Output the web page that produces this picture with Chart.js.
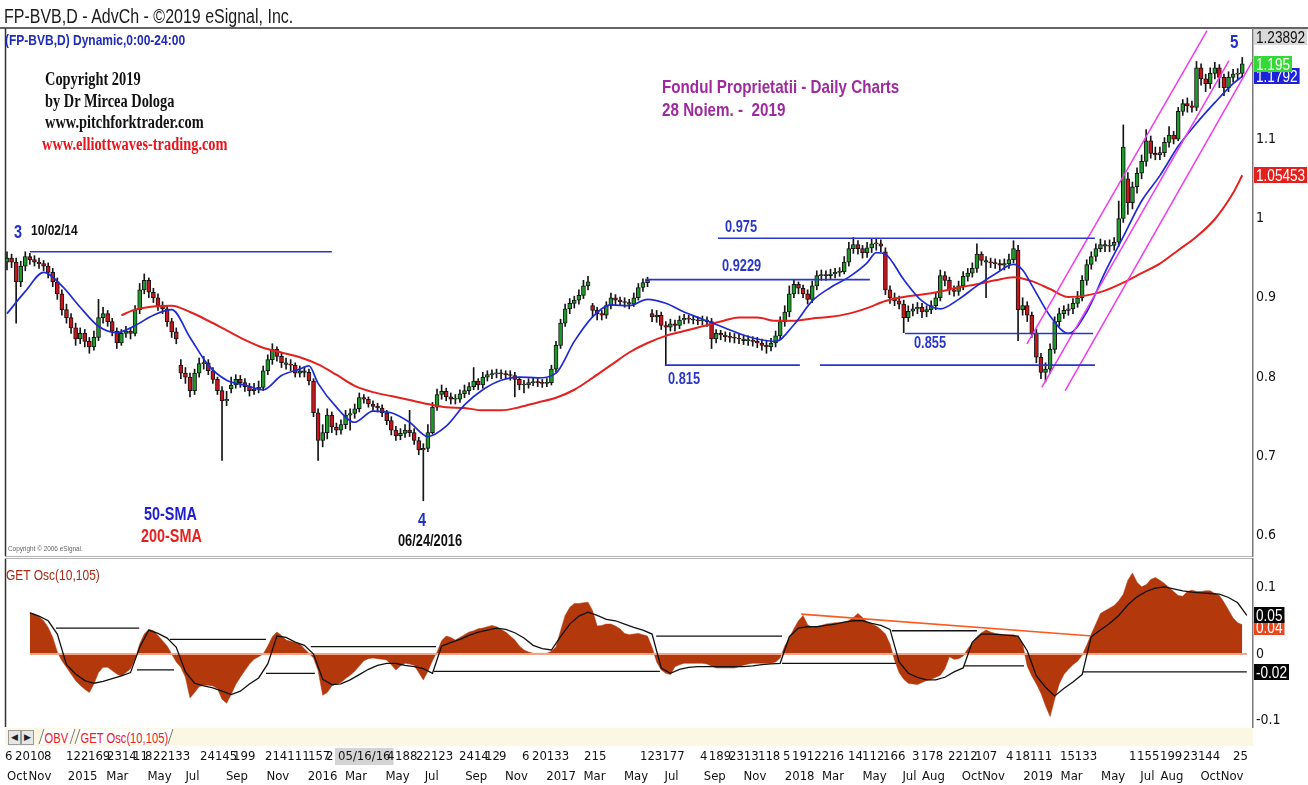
<!DOCTYPE html>
<html>
<head>
<meta charset="utf-8">
<title>FP-BVB Daily - Fondul Proprietatii</title>
<script src="https://cdn.jsdelivr.net/npm/chart.js@4.4.1/dist/chart.umd.min.js"></script>
<style>
  html, body { margin: 0; padding: 0; background: #fff; }
  #wrap { position: relative; width: 1308px; height: 785px; overflow: hidden; }
  #mainCanvas { position: absolute; left: 0; top: 0; }
  #oscCanvas { position: absolute; left: 0; top: 557px; }
  .note { position: absolute; white-space: pre; transform: scaleX(0.8); transform-origin: 0 0; z-index: 5; }
  #tabs { position: absolute; left: 5px; top: 728px; width: 1248px; height: 18px; background: #fbf7e3; z-index: 4; }
  .arr { position: absolute; top: 2px; width: 11px; height: 13px; background: #e6e6e6; border: 1px solid #9a9a9a;
         font: 9px "Liberation Sans", sans-serif; line-height: 13px; text-align: center; color: #222; }
  .tab { position: absolute; top: 1px; height: 15px; border-left: 1px solid #777; border-right: 1px solid #777;
         transform: skewX(-18deg); background: #fff; }
  .tab span { display: inline-block; transform: skewX(18deg) scaleX(0.8); transform-origin: 0 50%;
              font: 14px "Liberation Sans", sans-serif; line-height: 15px; color: #e8202a; padding-left: 4px; white-space: nowrap; }
</style>
</head>
<body>
<div id="wrap">
  <canvas id="mainCanvas" width="1308" height="558"></canvas>
  <canvas id="oscCanvas" width="1308" height="228"></canvas>
  <div id="tabs">
    <div class="arr" style="left:3px">&#9664;</div>
    <div class="arr" style="left:16px">&#9654;</div>
    <div class="tab" style="left:36px;width:30px"><span>OBV</span></div>
    <div class="tab" style="left:72px;width:92px"><span>GET Osc(10,105)</span></div>
  </div>
</div>
<script>
// Weekly candles, week 0 = 1 Oct 2014
const opens = [
  0.945,0.950,0.945,0.920,0.940,0.952,0.948,0.945,0.943,0.940,
  0.932,0.920,0.905,0.885,0.875,0.862,0.848,0.855,0.845,0.838,
  0.850,0.875,0.880,0.870,0.858,0.843,0.855,0.858,0.855,0.885,
  0.910,0.922,0.907,0.900,0.890,0.886,0.870,0.857,0.815,0.805,
  0.800,0.783,0.805,0.817,0.818,0.808,0.797,0.783,0.770,0.785,
  0.790,0.797,0.793,0.788,0.783,0.785,0.787,0.808,0.822,0.835,
  0.826,0.818,0.816,0.815,0.805,0.808,0.806,0.795,0.755,0.720,
  0.730,0.752,0.737,0.733,0.740,0.752,0.754,0.760,0.774,0.772,
  0.766,0.763,0.761,0.755,0.745,0.733,0.726,0.729,0.733,0.730,
  0.720,0.708,0.710,0.730,0.762,0.778,0.782,0.775,0.772,0.772,
  0.779,0.783,0.788,0.795,0.790,0.800,0.803,0.804,0.805,0.804,
  0.803,0.802,0.797,0.790,0.790,0.793,0.794,0.793,0.792,0.793,
  0.810,0.840,0.868,0.886,0.893,0.897,0.903,0.915,0.890,0.884,
  0.880,0.878,0.890,0.900,0.897,0.895,0.894,0.892,0.900,0.913,
  0.919,0.880,0.876,0.878,0.865,0.863,0.867,0.865,0.872,0.874,
  0.873,0.872,0.871,0.872,0.870,0.848,0.855,0.853,0.851,0.850,
  0.849,0.848,0.846,0.846,0.845,0.843,0.840,0.838,0.843,0.852,
  0.870,0.882,0.905,0.917,0.912,0.905,0.898,0.915,0.928,0.929,
  0.928,0.930,0.932,0.933,0.945,0.962,0.967,0.962,0.957,0.963,
  0.968,0.968,0.958,0.910,0.900,0.896,0.892,0.875,0.883,0.886,
  0.888,0.882,0.885,0.890,0.900,0.928,0.922,0.910,0.908,0.915,
  0.927,0.931,0.937,0.955,0.947,0.945,0.944,0.943,0.941,0.943,
  0.948,0.960,0.885,0.890,0.878,0.855,0.825,0.806,0.810,0.835,
  0.870,0.880,0.884,0.886,0.893,0.900,0.922,0.942,0.952,0.962,
  0.967,0.965,0.966,0.970,1.000,1.050,1.020,1.040,1.057,1.072,
  1.098,1.082,1.080,1.083,1.096,1.105,1.100,1.135,1.145,1.142,
  1.140,1.190,1.176,1.170,1.183,1.190,1.178,1.165,1.178,1.182,
  1.183
];
const highs = [
  0.958,0.955,0.950,0.946,0.958,0.956,0.953,0.950,0.947,0.944,
  0.937,0.925,0.910,0.892,0.880,0.868,0.862,0.860,0.850,0.858,
  0.898,0.888,0.884,0.874,0.862,0.860,0.864,0.862,0.890,0.918,
  0.930,0.925,0.912,0.905,0.895,0.890,0.874,0.862,0.822,0.812,
  0.805,0.810,0.824,0.826,0.822,0.812,0.800,0.788,0.782,0.800,
  0.803,0.802,0.798,0.792,0.792,0.795,0.814,0.828,0.842,0.838,
  0.830,0.824,0.822,0.818,0.814,0.813,0.810,0.798,0.760,0.740,
  0.760,0.756,0.742,0.746,0.758,0.760,0.766,0.780,0.778,0.775,
  0.770,0.767,0.765,0.758,0.750,0.738,0.735,0.740,0.758,0.735,
  0.724,0.716,0.740,0.768,0.785,0.790,0.786,0.780,0.778,0.784,
  0.790,0.793,0.812,0.798,0.806,0.808,0.809,0.810,0.809,0.808,
  0.808,0.806,0.800,0.796,0.798,0.799,0.798,0.797,0.798,0.815,
  0.845,0.873,0.892,0.899,0.902,0.910,0.922,0.927,0.893,0.888,
  0.884,0.895,0.906,0.904,0.901,0.900,0.898,0.906,0.918,0.924,
  0.926,0.885,0.884,0.882,0.870,0.873,0.872,0.877,0.879,0.878,
  0.877,0.876,0.877,0.876,0.874,0.860,0.859,0.857,0.856,0.855,
  0.854,0.853,0.852,0.851,0.850,0.848,0.846,0.849,0.858,0.876,
  0.890,0.915,0.922,0.920,0.916,0.910,0.921,0.934,0.935,0.934,
  0.936,0.937,0.938,0.952,0.970,0.976,0.972,0.966,0.970,0.974,
  0.975,0.973,0.963,0.915,0.906,0.902,0.897,0.890,0.892,0.894,
  0.893,0.890,0.896,0.906,0.935,0.933,0.926,0.915,0.921,0.933,
  0.937,0.944,0.968,0.958,0.952,0.950,0.949,0.948,0.949,0.955,
  0.972,0.966,0.900,0.895,0.882,0.860,0.830,0.818,0.842,0.876,
  0.887,0.890,0.892,0.899,0.908,0.928,0.948,0.958,0.968,0.974,
  0.972,0.973,0.976,1.022,1.118,1.058,1.046,1.064,1.080,1.112,
  1.104,1.090,1.090,1.102,1.116,1.110,1.140,1.150,1.152,1.148,
  1.198,1.195,1.182,1.190,1.197,1.194,1.182,1.185,1.188,1.189,
  1.203
];
const lows = [
  0.935,0.938,0.868,0.914,0.934,0.942,0.940,0.937,0.934,0.925,
  0.914,0.898,0.878,0.868,0.855,0.840,0.842,0.838,0.830,0.834,
  0.846,0.868,0.864,0.852,0.836,0.840,0.850,0.848,0.852,0.880,
  0.905,0.900,0.894,0.884,0.880,0.864,0.850,0.842,0.798,0.792,
  0.775,0.778,0.800,0.810,0.803,0.792,0.778,0.695,0.764,0.780,
  0.786,0.787,0.782,0.776,0.778,0.780,0.783,0.803,0.816,0.820,
  0.812,0.810,0.808,0.800,0.800,0.800,0.790,0.750,0.695,0.712,
  0.722,0.730,0.727,0.728,0.735,0.733,0.748,0.756,0.767,0.762,
  0.758,0.756,0.750,0.740,0.727,0.720,0.721,0.724,0.725,0.715,
  0.702,0.644,0.706,0.728,0.758,0.772,0.770,0.766,0.766,0.768,
  0.774,0.778,0.784,0.784,0.786,0.795,0.798,0.799,0.798,0.798,
  0.796,0.775,0.784,0.780,0.786,0.789,0.788,0.787,0.788,0.790,
  0.806,0.836,0.864,0.880,0.887,0.892,0.899,0.910,0.876,0.872,
  0.872,0.874,0.886,0.891,0.890,0.888,0.886,0.889,0.897,0.908,
  0.914,0.870,0.869,0.860,0.815,0.858,0.858,0.861,0.867,0.868,
  0.867,0.866,0.866,0.864,0.836,0.843,0.847,0.845,0.844,0.843,
  0.842,0.841,0.840,0.839,0.837,0.834,0.830,0.833,0.838,0.848,
  0.864,0.876,0.900,0.905,0.900,0.892,0.894,0.910,0.922,0.922,
  0.923,0.925,0.927,0.930,0.940,0.956,0.955,0.950,0.951,0.957,
  0.960,0.958,0.904,0.893,0.890,0.886,0.856,0.870,0.877,0.880,
  0.875,0.876,0.880,0.885,0.896,0.915,0.904,0.902,0.903,0.910,
  0.921,0.926,0.932,0.941,0.900,0.938,0.937,0.935,0.935,0.937,
  0.944,0.846,0.878,0.870,0.850,0.818,0.798,0.794,0.805,0.830,
  0.864,0.874,0.878,0.880,0.888,0.896,0.916,0.936,0.946,0.958,
  0.958,0.958,0.960,0.965,0.995,1.005,1.012,1.032,1.050,1.066,
  1.076,1.074,1.074,1.078,1.090,1.094,1.098,1.130,1.134,1.134,
  1.136,1.168,1.160,1.164,1.176,1.165,1.155,1.160,1.172,1.175,
  1.178
];
const closes = [
  0.950,0.945,0.920,0.940,0.952,0.948,0.945,0.943,0.940,0.932,
  0.920,0.905,0.885,0.875,0.862,0.848,0.855,0.845,0.838,0.850,
  0.875,0.880,0.870,0.858,0.843,0.855,0.858,0.855,0.885,0.910,
  0.922,0.907,0.900,0.890,0.886,0.870,0.857,0.848,0.805,0.800,
  0.783,0.805,0.817,0.818,0.808,0.797,0.783,0.770,0.772,0.790,
  0.797,0.793,0.788,0.783,0.785,0.787,0.808,0.822,0.835,0.826,
  0.818,0.816,0.815,0.805,0.808,0.806,0.795,0.755,0.720,0.730,
  0.752,0.737,0.733,0.740,0.752,0.754,0.760,0.774,0.772,0.766,
  0.763,0.761,0.755,0.745,0.733,0.726,0.729,0.733,0.730,0.720,
  0.708,0.710,0.730,0.762,0.778,0.782,0.775,0.772,0.772,0.779,
  0.783,0.788,0.795,0.790,0.800,0.803,0.804,0.805,0.804,0.803,
  0.802,0.797,0.790,0.790,0.793,0.794,0.793,0.792,0.793,0.810,
  0.840,0.868,0.886,0.893,0.897,0.903,0.915,0.920,0.884,0.880,
  0.878,0.890,0.900,0.897,0.895,0.894,0.892,0.900,0.913,0.919,
  0.922,0.876,0.878,0.865,0.863,0.867,0.865,0.872,0.874,0.873,
  0.872,0.871,0.872,0.870,0.848,0.855,0.853,0.851,0.850,0.849,
  0.848,0.846,0.846,0.845,0.843,0.840,0.838,0.843,0.852,0.870,
  0.882,0.905,0.917,0.912,0.905,0.898,0.915,0.928,0.929,0.928,
  0.930,0.932,0.933,0.945,0.962,0.967,0.962,0.957,0.963,0.968,
  0.968,0.965,0.910,0.900,0.896,0.892,0.875,0.883,0.886,0.888,
  0.882,0.885,0.890,0.900,0.928,0.922,0.910,0.908,0.915,0.927,
  0.931,0.937,0.955,0.947,0.945,0.944,0.943,0.941,0.943,0.948,
  0.962,0.885,0.890,0.878,0.855,0.825,0.806,0.810,0.835,0.870,
  0.880,0.884,0.886,0.893,0.900,0.922,0.942,0.952,0.962,0.967,
  0.965,0.966,0.970,1.000,1.090,1.020,1.040,1.057,1.072,1.098,
  1.082,1.080,1.083,1.096,1.105,1.100,1.135,1.145,1.142,1.140,
  1.190,1.176,1.170,1.183,1.190,1.178,1.165,1.178,1.182,1.183,
  1.195
];

// moving averages as drawn (week, value)
const sma50Weeks = [0,4,8,12,16,20,24,28,32,36,40,44,48,52,56,60,64,66,68,72,76,80,84,88,92,96,100,104,108,112,
  116,120,124,128,132,136,140,144,148,152,156,160,164,168,172,176,180,184,188,190,192,196,200,204,208,212,216,220,222,224,
  228,232,236,240,244,248,252,256,260,264,268,270];
const sma50 = [0.880,0.908,0.932,0.915,0.888,0.864,0.856,0.865,0.878,0.885,0.850,0.815,0.796,0.790,0.784,0.802,0.810,0.814,0.792,0.762,
  0.743,0.757,0.755,0.743,0.725,0.738,0.765,0.784,0.796,0.800,0.799,0.805,0.845,0.876,0.891,0.890,0.898,0.893,0.882,0.873,
  0.864,0.855,0.848,0.845,0.866,0.896,0.913,0.926,0.944,0.957,0.955,0.923,0.896,0.886,0.898,0.915,0.930,0.942,0.935,0.916,
  0.877,0.855,0.882,0.932,0.977,1.022,1.054,1.091,1.120,1.146,1.170,1.1792];
const sma200Weeks = [25,28,32,36,40,44,48,52,56,60,64,68,72,76,80,84,88,92,96,100,104,108,112,116,120,124,128,132,136,140,
  144,148,152,156,160,164,168,172,176,180,184,188,192,196,200,204,208,212,216,220,224,228,232,236,240,244,248,252,256,260,
  264,268,270];
const sma200 = [0.878,0.885,0.889,0.890,0.882,0.871,0.859,0.847,0.837,0.831,0.825,0.816,0.803,0.789,0.781,0.776,0.771,0.766,0.762,0.761,
  0.758,0.758,0.762,0.768,0.774,0.784,0.799,0.815,0.831,0.843,0.852,0.858,0.864,0.870,0.875,0.875,0.871,0.871,0.874,0.876,
  0.880,0.887,0.896,0.901,0.904,0.908,0.913,0.917,0.922,0.926,0.921,0.911,0.901,0.903,0.909,0.919,0.931,0.943,0.960,0.977,
  0.999,1.032,1.05453];

// drawn studies: horizontal levels [fromWeek, toWeek, price], pitchfork [w1, p1, w2, p2]
const levelLines = [[5.0, 71.0, 0.958], [155.4, 237.8, 0.975], [139.5, 188.6, 0.9229],
  [143.8, 173.3, 0.815], [177.7, 237.8, 0.815], [196.3, 237.4, 0.855]];
const pitchfork = [[222.95, 0.842, 262.3, 1.237], [226.2, 0.787, 267.1, 1.199], [231.3, 0.783, 272.1, 1.197]];

// GET oscillator, one value per week (none before week 5)
const osc = [
  null,null,null,null,null,0.062,0.060,0.056,0.050,0.040,
  0.025,0.003,-0.010,-0.020,-0.030,-0.040,-0.047,-0.053,-0.058,-0.045,
  -0.028,-0.020,-0.020,-0.025,-0.030,-0.033,-0.028,-0.022,-0.008,0.015,
  0.030,0.037,0.035,0.028,0.020,0.012,0.000,-0.012,-0.020,-0.035,
  -0.066,-0.058,-0.049,-0.047,-0.047,-0.048,-0.052,-0.068,-0.074,-0.061,
  -0.046,-0.035,-0.025,-0.015,-0.008,-0.004,0.000,0.012,0.026,0.033,
  0.028,0.021,0.019,0.017,0.015,0.008,0.001,-0.006,-0.025,-0.062,
  -0.058,-0.048,-0.045,-0.043,-0.037,-0.032,-0.026,-0.018,-0.010,-0.007,
  -0.006,-0.007,-0.008,-0.009,-0.016,-0.024,-0.018,-0.014,-0.015,-0.017,
  -0.028,-0.039,-0.026,-0.010,0.003,0.020,0.027,0.025,0.021,0.025,
  0.029,0.033,0.035,0.038,0.039,0.041,0.043,0.041,0.037,0.033,
  0.027,0.021,0.012,0.006,0.003,0.001,0.001,0.001,0.001,0.004,
  0.011,0.035,0.058,0.070,0.076,0.076,0.077,0.078,0.065,0.042,
  0.043,0.045,0.045,0.042,0.038,0.031,0.029,0.030,0.031,0.029,
  0.027,0.010,-0.012,-0.024,-0.029,-0.031,-0.019,-0.016,-0.014,-0.014,
  -0.014,-0.014,-0.014,-0.015,-0.018,-0.021,-0.021,-0.021,-0.021,-0.021,
  -0.019,-0.017,-0.015,-0.014,-0.014,-0.014,-0.014,-0.014,-0.012,-0.006,
  0.012,0.024,0.038,0.050,0.058,0.044,0.040,0.041,0.043,0.045,
  0.046,0.047,0.047,0.048,0.050,0.055,0.061,0.055,0.048,0.045,
  0.042,0.037,0.030,0.015,-0.009,-0.028,-0.038,-0.044,-0.045,-0.046,
  -0.043,-0.040,-0.038,-0.035,-0.032,-0.022,-0.004,-0.008,-0.007,-0.003,
  0.008,0.017,0.026,0.032,0.036,0.033,0.031,0.030,0.029,0.029,
  0.029,0.026,0.015,-0.018,-0.033,-0.045,-0.059,-0.078,-0.094,-0.068,
  -0.045,-0.031,-0.023,-0.016,-0.011,-0.002,0.013,0.030,0.045,0.061,
  0.065,0.069,0.073,0.080,0.090,0.111,0.122,0.108,0.101,0.104,
  0.112,0.115,0.111,0.106,0.100,0.094,0.088,0.087,0.094,0.096,
  0.094,0.094,0.095,0.095,0.091,0.088,0.078,0.066,0.054,0.047,
  0.044
];
// signal line, every second week starting at week 5
const signalFirstWeek = 5;
const signal = [
  0.062,0.057,0.050,0.030,-0.016,-0.030,-0.040,-0.044,-0.041,-0.037,
  -0.033,-0.028,0.010,0.036,0.031,0.024,0.010,-0.027,-0.044,-0.048,
  -0.051,-0.056,-0.061,-0.056,-0.045,-0.036,-0.015,0.027,0.025,0.018,
  0.013,0.000,-0.038,-0.046,-0.045,-0.039,-0.031,-0.023,-0.017,-0.014,
  -0.014,-0.017,-0.019,-0.022,-0.029,0.012,0.017,0.022,0.028,0.033,
  0.036,0.039,0.037,0.032,0.024,0.013,0.008,0.006,0.026,0.045,
  0.057,0.063,0.058,0.052,0.050,0.045,0.040,0.036,0.030,-0.021,
  -0.029,-0.023,-0.020,-0.019,-0.019,-0.019,-0.019,-0.019,-0.019,-0.018,
  -0.016,-0.015,-0.014,0.026,0.039,0.041,0.041,0.043,0.045,0.048,
  0.050,0.050,0.046,0.043,0.037,-0.012,-0.029,-0.035,-0.039,-0.039,
  -0.035,-0.027,-0.021,0.018,0.030,0.030,0.029,0.028,0.027,0.005,
  -0.033,-0.050,-0.063,-0.052,-0.042,-0.031,0.026,0.036,0.046,0.058,
  0.074,0.086,0.094,0.099,0.101,0.098,0.095,0.093,0.092,0.091,
  0.090,0.085,0.077,0.058
];
// flat breakout bands [fromWeek, toWeek, level]
const upperBands = [[10.7, 28.9, 0.039], [35.6, 56.6, 0.022], [66.4, 93.8, 0.011], [141.9, 169.4, 0.027], [193.4, 212.0, 0.035]];
const lowerBands = [[28.4, 36.5, -0.024], [56.6, 67.3, -0.029], [93.3, 142.7, -0.026], [169.4, 194.3, -0.014],
  [209.2, 222.3, -0.018], [235.2, 271.0, -0.027]];
const oscTrend = [[173.6, 0.060], [237.2, 0.027]];

// axis labels
const priceTicks = [0.6, 0.7, 0.8, 0.9, 1, 1.1];
const priceTop = 1.23892;
const oscTicks = [-0.1, 0, 0.1];
const monthStarts = ['2014-10-01','2014-11-03','2015-01-02','2015-03-02','2015-05-04','2015-07-01','2015-09-01','2015-11-02',
  '2016-01-04','2016-03-01','2016-05-02','2016-07-01','2016-09-01','2016-11-01','2017-01-03','2017-03-01','2017-05-02',
  '2017-07-03','2017-09-01','2017-11-01','2018-01-03','2018-03-01','2018-05-02','2018-07-02','2018-08-01','2018-10-01',
  '2018-11-01','2019-01-03','2019-03-01','2019-05-02','2019-07-01','2019-08-01','2019-10-01','2019-11-01'];
const monthNames = ['Oct','Nov','2015','Mar','May','Jul','Sep','Nov','2016','Mar','May','Jul','Sep','Nov','2017','Mar','May',
  'Jul','Sep','Nov','2018','Mar','May','Jul','Aug','Oct','Nov','2019','Mar','May','Jul','Aug','Oct','Nov'];
const dayGroups = ['6','2010','8','122','169','2314','11','8','22133','24145','199','214111','157','2','05/16/16','4','188',
  '22123','2414','12','9','6','20133','215','123177','4','189','2313','118','5','1912216','14','112','166','3','178','2212',
  '107','4','18111','15133','1','155','199','23144','25'];
const dayGroupWeeks = [-0.43,1.75,8.09,12.9,17.7,21.86,27.54,30.16,31.91,42.19,49.4,56.39,65.79,69.73,72.35,83.06,84.81,
  89.4,98.8,104.48,107.54,112.57,114.75,126.12,138.36,151.48,153.4,157.81,164.15,169.62,171.58,183.83,186.89,191.48,
  197.81,199.78,205.68,211.58,218.36,220.33,230.16,245.25,247.0,252.02,257.05,267.98];
const markedDate = '05/16/16';

// ---------------------------------------------------------------
const NARROW = '"DejaVu Sans Condensed", "Liberation Sans Narrow", "Liberation Sans", sans-serif';
const TAG_FONT = '17px "Liberation Sans", Arial, sans-serif';
const X_MIN = -0.437, X_MAX = 272.35;
const PRICE_MIN = 0.57436;
const OSC_MIN = -0.1098, OSC_MAX = 0.1429;
const weekOf = d => (Date.parse(d) - Date.parse('2014-10-01')) / (7 * 864e5);
const monthWeeks = monthStarts.map(weekOf);
const trunc2 = v => (Math.trunc(v * 100 + (v < 0 ? -1e-9 : 1e-9)) / 100).toFixed(2);
const tickText = v => String(Math.round(v * 10) / 10);

function noPad(s) { s.paddingTop = 0; s.paddingBottom = 0; s.paddingLeft = 0; s.paddingRight = 0; }

// value tag on the right axis, text squeezed like the rest of the picture
function drawTag(ctx, area, scale, value, text, bg, fg) {
  const y = Math.max(area.top + 8, scale.getPixelForValue(value));
  ctx.font = TAG_FONT;
  const w = ctx.measureText(text).width * 0.8 + 4;
  ctx.fillStyle = bg;
  ctx.fillRect(area.right + 1, Math.round(y - 8), w, 16);
  ctx.save();
  ctx.translate(area.right + 3, Math.round(y) + 1);
  ctx.scale(0.8, 1);
  ctx.fillStyle = fg;
  ctx.textAlign = 'left';
  ctx.textBaseline = 'middle';
  ctx.fillText(text, 0, 0);
  ctx.restore();
}

// ---------------- price panel ----------------
const isUp = closes.map((c, i) => c >= opens[i]);
const segment = (a, va, b, vb) => [{ x: a, y: va }, { x: b, y: vb }];

const mainFrame = {
  id: 'mainFrame',
  beforeDraw(chart) {
    const { ctx, chartArea: a } = chart;
    ctx.save();
    ctx.strokeStyle = '#333';
    ctx.lineWidth = 1.5;
    ctx.beginPath(); ctx.moveTo(0, a.top - 1); ctx.lineTo(chart.width, a.top - 1); ctx.stroke();
    ctx.beginPath(); ctx.moveTo(a.left + 0.5, a.top - 1); ctx.lineTo(a.left + 0.5, a.bottom); ctx.stroke();
    ctx.strokeStyle = '#b4b4b4';
    ctx.lineWidth = 1;
    ctx.beginPath(); ctx.moveTo(a.left, a.bottom + 0.5); ctx.lineTo(a.right, a.bottom + 0.5); ctx.stroke();
    ctx.restore();
  },
  afterDraw(chart) {
    const { ctx, chartArea: a } = chart;
    const y = chart.scales.y;
    const last200 = sma200[sma200.length - 1], last50 = sma50[sma50.length - 1], lastClose = closes[closes.length - 1];
    ctx.save();
    drawTag(ctx, a, y, priceTop, String(priceTop), '#d9d9d9', '#111');
    drawTag(ctx, a, y, last200, String(last200), '#e3201c', '#fff');
    drawTag(ctx, a, y, last50, String(last50), '#1c22d8', '#fff');
    drawTag(ctx, a, y, lastClose, String(lastClose), '#35d935', '#fff');
    ctx.restore();
  }
};

new Chart(document.getElementById('mainCanvas'), {
  type: 'bar',
  data: {
    datasets: [
      ...levelLines.map(([a, b, v]) => ({
        type: 'line', data: segment(a, v, b, v), borderColor: '#2a36c8', borderWidth: 1.6, pointRadius: 0, order: 0
      })),
      ...pitchfork.map(([a, va, b, vb]) => ({
        type: 'line', data: segment(a, va, b, vb), borderColor: '#ee3cee', borderWidth: 1.5, pointRadius: 0, order: 0
      })),
      {
        type: 'line', label: '50-SMA', data: sma50Weeks.map((w, k) => ({ x: w, y: sma50[k] })),
        borderColor: '#1e2ad6', borderWidth: 1.7, pointRadius: 0, cubicInterpolationMode: 'monotone', order: 1
      },
      {
        type: 'line', label: '200-SMA', data: sma200Weeks.map((w, k) => ({ x: w, y: sma200[k] })),
        borderColor: '#e4211f', borderWidth: 2, pointRadius: 0, cubicInterpolationMode: 'monotone', order: 1
      },
      {
        label: 'body', data: closes.map((c, i) => ({ x: i, y: [opens[i], c] })),
        backgroundColor: isUp.map(u => u ? '#1f9a2a' : '#c4161c'),
        borderColor: '#151515', borderWidth: 1, borderSkipped: false,
        barThickness: 4, minBarLength: 1, grouped: false, order: 2
      },
      {
        label: 'range', data: closes.map((c, i) => ({ x: i, y: [lows[i], highs[i]] })),
        backgroundColor: '#151515', barThickness: 1, grouped: false, order: 3
      }
    ]
  },
  options: {
    responsive: false,
    animation: false,
    events: [],
    layout: { padding: { left: 5, top: 29, right: 0, bottom: 2 } },
    plugins: { legend: { display: false }, tooltip: { enabled: false } },
    scales: {
      x: { type: 'linear', min: X_MIN, max: X_MAX, offset: false, display: false },
      y: {
        position: 'right', min: PRICE_MIN, max: priceTop,
        afterBuildTicks: s => { s.ticks = priceTicks.map(v => ({ value: v })); },
        afterFit: s => { s.width = 55; noPad(s); },
        ticks: { callback: tickText, color: '#111', padding: 3, font: { family: NARROW, size: 14 } },
        grid: { display: false, drawTicks: false },
        border: { display: true, color: '#7a7a7a', width: 1.5 }
      }
    }
  },
  plugins: [mainFrame]
});

// ---------------- oscillator panel ----------------
const oscFrame = {
  id: 'oscFrame',
  beforeDraw(chart) {
    const { ctx, chartArea: a } = chart;
    ctx.save();
    ctx.strokeStyle = '#b4b4b4';
    ctx.lineWidth = 1;
    ctx.beginPath(); ctx.moveTo(a.left, a.top - 0.5); ctx.lineTo(a.right, a.top - 0.5); ctx.stroke();
    ctx.strokeStyle = '#333';
    ctx.lineWidth = 1.5;
    ctx.beginPath(); ctx.moveTo(a.left + 0.5, a.top); ctx.lineTo(a.left + 0.5, a.bottom); ctx.stroke();
    // highlighted cursor date on the day row
    const k = dayGroups.indexOf(markedDate);
    const px = chart.scales.x.getPixelForValue(dayGroupWeeks[k]);
    ctx.font = '13px ' + NARROW;
    const w = ctx.measureText(markedDate).width;
    ctx.fillStyle = '#d4d4d4';
    ctx.fillRect(px - 3, a.bottom + 21, w + 6, 17);
    ctx.restore();
  },
  afterDraw(chart) {
    const { ctx, chartArea: a } = chart;
    const y = chart.scales.y;
    const lastOsc = osc[osc.length - 1];
    const lastSig = signal[signal.length - 1];
    const lastLow = lowerBands[lowerBands.length - 1][2];
    ctx.save();
    drawTag(ctx, a, y, lastOsc - 0.004, trunc2(lastOsc), '#e8461e', '#fff');
    drawTag(ctx, a, y, lastSig, trunc2(lastSig), '#050505', '#fff');
    drawTag(ctx, a, y, lastLow, trunc2(lastLow), '#050505', '#fff');
    ctx.restore();
  }
};

const blackLine = data => ({ type: 'line', data, borderColor: '#111', borderWidth: 1.3, pointRadius: 0, order: 0 });

new Chart(document.getElementById('oscCanvas'), {
  type: 'line',
  data: {
    datasets: [
      blackLine(signal.map((v, k) => ({ x: signalFirstWeek + 2 * k, y: v }))),
      ...upperBands.map(([a, b, v]) => blackLine(segment(a, v, b, v))),
      ...lowerBands.map(([a, b, v]) => blackLine(segment(a, v, b, v))),
      {
        data: oscTrend.map(([w, v]) => ({ x: w, y: v })), borderColor: '#ff5a1e', borderWidth: 1.6, pointRadius: 0, order: 0
      },
      {
        data: segment(5, 0, 271, 0), borderColor: '#f3a487', borderWidth: 2, pointRadius: 0, order: 1
      },
      {
        label: 'GET Osc(10,105)',
        data: osc.map((v, i) => ({ x: i, y: v })).filter(p => p.y !== null),
        borderColor: '#b3380c', borderWidth: 0.5, backgroundColor: '#b3380c',
        fill: 'origin', pointRadius: 0, order: 2
      }
    ]
  },
  options: {
    responsive: false,
    animation: false,
    events: [],
    layout: { padding: { left: 5, top: 2, right: 0, bottom: 0 } },
    plugins: { legend: { display: false }, tooltip: { enabled: false } },
    scales: {
      x: {
        type: 'linear', min: X_MIN, max: X_MAX, offset: false, position: 'bottom', weight: 0,
        afterBuildTicks: s => { s.ticks = dayGroupWeeks.map(v => ({ value: v })); },
        afterFit: s => { s.height = 39; noPad(s); },
        ticks: { autoSkip: false, maxRotation: 0, minRotation: 0, align: 'start', padding: 22, color: '#111',
                 font: { family: NARROW, size: 13 }, callback: (v, i) => dayGroups[i] },
        grid: { display: false, drawTicks: false },
        border: { display: false }
      },
      x2: {
        type: 'linear', min: X_MIN, max: X_MAX, offset: false, position: 'bottom', weight: 1,
        afterBuildTicks: s => { s.ticks = monthWeeks.map(v => ({ value: v })); },
        afterFit: s => { s.height = 19; noPad(s); },
        ticks: { autoSkip: false, maxRotation: 0, minRotation: 0, align: 'start', padding: 3, color: '#111',
                 font: { family: NARROW, size: 13 }, callback: (v, i) => monthNames[i] },
        grid: { display: false, drawTicks: false },
        border: { display: false }
      },
      y: {
        position: 'right', min: OSC_MIN, max: OSC_MAX,
        afterBuildTicks: s => { s.ticks = oscTicks.map(v => ({ value: v })); },
        afterFit: s => { s.width = 55; noPad(s); },
        ticks: { callback: tickText, color: '#111', padding: 3, font: { family: NARROW, size: 14 } },
        grid: { display: false, drawTicks: false },
        border: { display: true, color: '#7a7a7a', width: 1.5 }
      }
    }
  },
  plugins: [oscFrame]
});

// ---------------- text annotations ----------------
const SANS = '"Liberation Sans", Arial, sans-serif';
const SERIF = '"Liberation Serif", "Times New Roman", serif';
const notes = [
  // text, left, centre y, size, colour, weight, family
  ['FP-BVB,D - AdvCh - ©2019 eSignal, Inc.', 4, 16, 20, '#1b1b1b', 400, SANS],
  ['(FP-BVB,D) Dynamic,0:00-24:00', 5, 39, 15, '#1e2bb8', 700, SANS],
  ['Copyright 2019', 45, 79, 18, '#111', 700, SERIF],
  ['by Dr Mircea Dologa', 45, 101, 18, '#111', 700, SERIF],
  ['www.pitchforktrader.com', 45, 122, 18, '#111', 700, SERIF],
  ['www.elliottwaves-trading.com', 42, 144, 18, '#e8141c', 700, SERIF],
  ['Fondul Proprietatii - Daily Charts', 662, 86, 19, '#9e2a9e', 700, SANS],
  ['28 Noiem. -  2019', 662, 109, 19, '#9e2a9e', 700, SANS],
  ['3', 14, 232, 18, '#2230c8', 700, SANS],
  ['10/02/14', 31, 229, 15, '#111', 700, SANS],
  ['0.975', 725, 227, 16, '#2a36c8', 700, SANS],
  ['0.9229', 722, 266, 16, '#2a36c8', 700, SANS],
  ['0.815', 668, 379, 16, '#2a36c8', 700, SANS],
  ['0.855', 914, 343, 16, '#2a36c8', 700, SANS],
  ['4', 418, 520, 18, '#2230c8', 700, SANS],
  ['06/24/2016', 398, 541, 16, '#111', 700, SANS],
  ['50-SMA', 144, 514, 18, '#2020d0', 700, SANS],
  ['200-SMA', 141, 536, 18, '#e4211f', 700, SANS],
  ['5', 1230, 41, 19, '#2230c8', 700, SANS],
  ['Copyright © 2006 eSignal.', 8, 549, 8, '#666', 400, SANS],
  ['GET Osc(10,105)', 6, 574, 15, '#a52a14', 400, SANS]
];
const wrap = document.getElementById('wrap');
notes.forEach(([text, x, cy, size, color, weight, family]) => {
  const d = document.createElement('div');
  d.className = 'note';
  d.textContent = text;
  Object.assign(d.style, {
    left: x + 'px', top: (cy - size / 2) + 'px', fontSize: size + 'px', lineHeight: size + 'px',
    color: color, fontWeight: weight, fontFamily: family
  });
  wrap.appendChild(d);
});
</script>
</body>
</html>
